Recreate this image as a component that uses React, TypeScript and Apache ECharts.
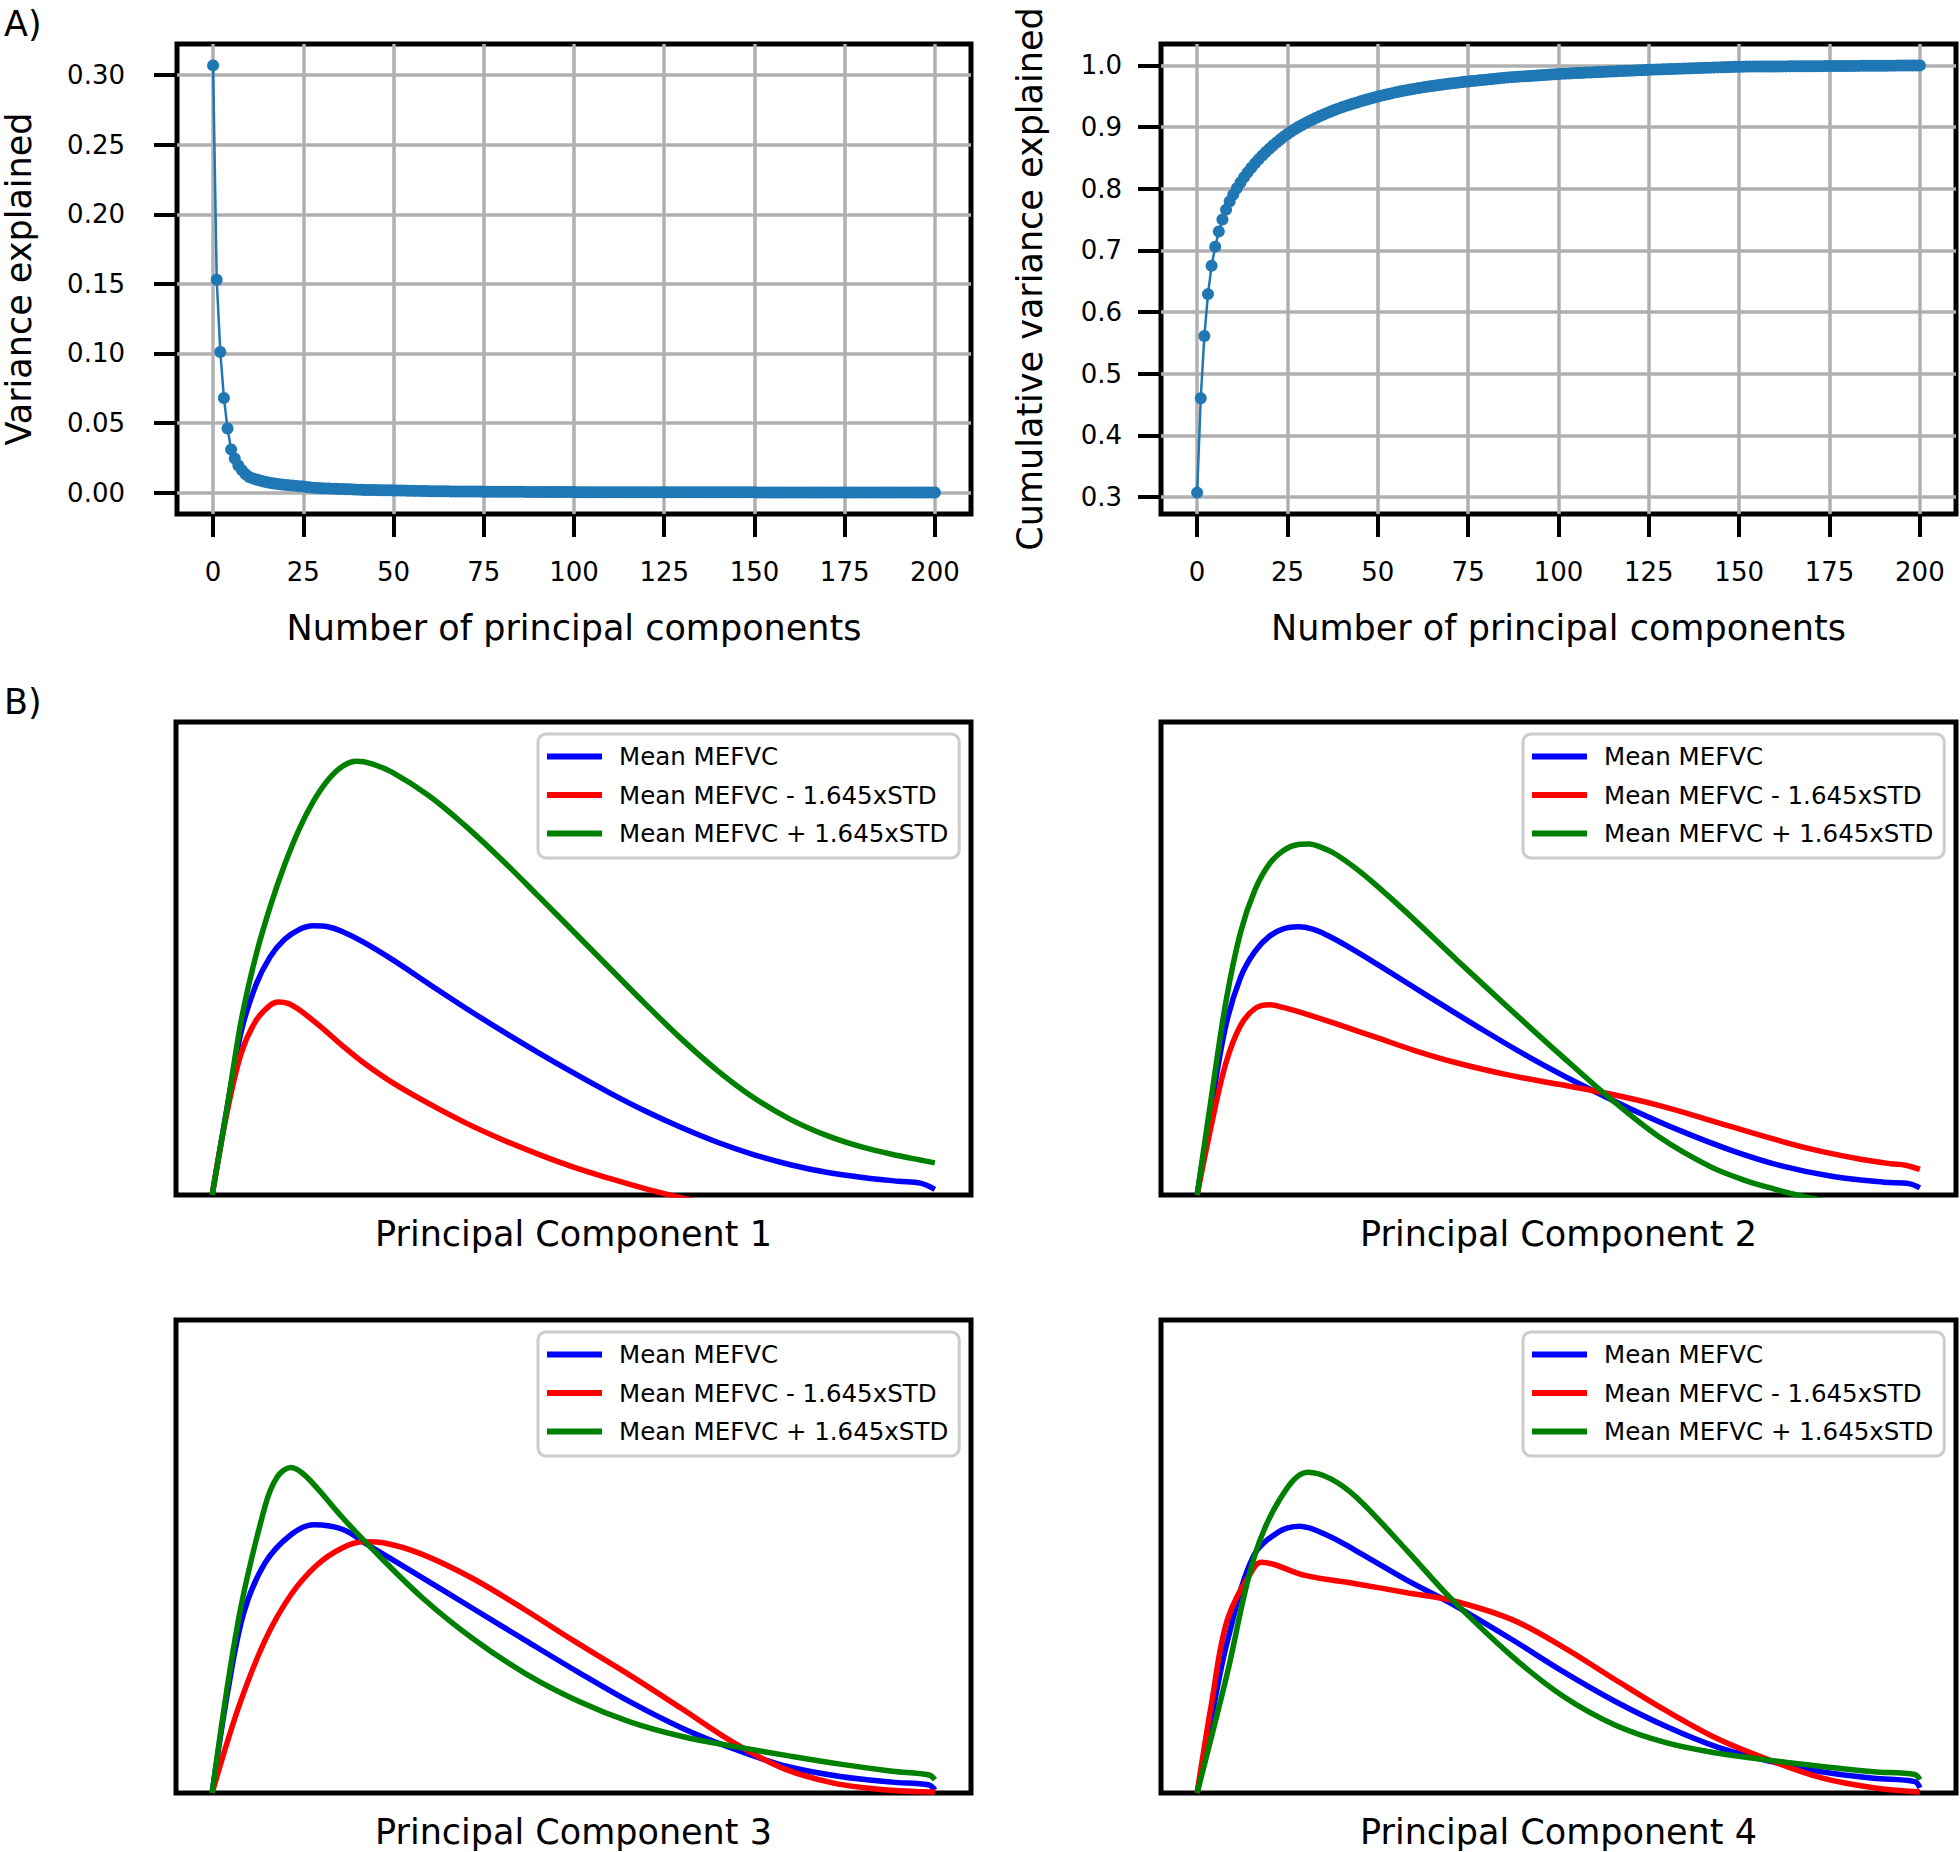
import React, { useEffect, useRef } from "react";
import * as echarts from "echarts";

const FONT = "'DejaVu Sans', 'Liberation Sans', sans-serif";

// ---------- A) PCA scree data ----------
const componentNumbers = Array.from({ length: 201 }, (_, i) => i);
const componentTicks = [0, 25, 50, 75, 100, 125, 150, 175, 200];
const varianceTicks = [0, 0.05, 0.1, 0.15, 0.2, 0.25, 0.3];
const cumulativeTicks = [0.3, 0.4, 0.5, 0.6, 0.7, 0.8, 0.9, 1.0];

const varianceExplained = [
  0.307, 0.153, 0.101, 0.068, 0.046, 0.031, 0.0245, 0.0195, 0.016, 0.0132,
  0.0112, 0.0102, 0.0094, 0.0087, 0.008, 0.0074, 0.0069, 0.0065, 0.0061, 0.0058,
  0.0055, 0.0052, 0.005, 0.0048, 0.0046, 0.0043, 0.004, 0.0037, 0.0035, 0.0033,
  0.0031, 0.003, 0.0029, 0.0028, 0.0027, 0.0026, 0.0025, 0.0024, 0.0023, 0.0022,
  0.0021, 0.002, 0.0019, 0.0019, 0.0018, 0.0018, 0.0017, 0.0017, 0.0016, 0.0016,
  0.0015, 0.0015, 0.0014, 0.0014, 0.0013, 0.0013, 0.0012, 0.0012, 0.0011, 0.0011,
  0.001, 0.001, 0.001, 0.0009, 0.0009, 0.0009, 0.0008, 0.0008, 0.0008, 0.0008,
  0.0007, 0.0007, 0.0007, 0.0007, 0.0007, 0.0006, 0.0006, 0.0006, 0.0006, 0.0006,
  0.0006, 0.0006, 0.0006, 0.0006, 0.0006, 0.0006, 0.0006, 0.0004, 0.0004, 0.0004,
  0.0004, 0.0004, 0.0004, 0.0004, 0.0004, 0.0004, 0.0004, 0.0004, 0.0004, 0.0004,
  0.0004, 0.00027, 0.00027, 0.00027, 0.00027, 0.00027, 0.00027, 0.00027, 0.00027, 0.00027,
  0.00027, 0.00027, 0.00027, 0.00027, 0.00027, 0.00027, 0.00027, 0.00027, 0.00027, 0.00027,
  0.00027, 0.00027, 0.00027, 0.00027, 0.00027, 0.00027, 0.0002, 0.0002, 0.0002, 0.0002,
  0.0002, 0.0002, 0.0002, 0.0002, 0.0002, 0.0002, 0.0002, 0.0002, 0.0002, 0.0002,
  0.0002, 0.0002, 0.0002, 0.0002, 0.0002, 0.0002, 0.0002, 0.0002, 0.0002, 0.0002,
  0.0002, 0.00004, 0.00004, 0.00004, 0.00004, 0.00004, 0.00004, 0.00004, 0.00004, 0.00004,
  0.00004, 0.00004, 0.00004, 0.00004, 0.00004, 0.00004, 0.00004, 0.00004, 0.00004, 0.00004,
  0.00004, 0.00004, 0.00004, 0.00004, 0.00004, 0.00004, 0.00004, 0.00004, 0.00004, 0.00004,
  0.00004, 0.00004, 0.00004, 0.00004, 0.00004, 0.00004, 0.00004, 0.00004, 0.00004, 0.00004,
  0.00004, 0.00004, 0.00004, 0.00004, 0.00004, 0.00004, 0.00004, 0.00004, 0.00004, 0.00004,
  0.00004,
];

const cumulativeExplained = [
  0.307, 0.46, 0.561, 0.629, 0.675, 0.706, 0.7305, 0.75, 0.766, 0.7792,
  0.7904, 0.8006, 0.81, 0.8187, 0.8267, 0.8341, 0.841, 0.8475, 0.8536, 0.8594,
  0.8649, 0.8701, 0.8751, 0.8799, 0.8845, 0.8888, 0.8928, 0.8965, 0.9, 0.9033,
  0.9064, 0.9094, 0.9123, 0.9151, 0.9178, 0.9204, 0.9229, 0.9253, 0.9276, 0.9298,
  0.9319, 0.9339, 0.9358, 0.9377, 0.9395, 0.9413, 0.943, 0.9447, 0.9463, 0.9479,
  0.9494, 0.9509, 0.9523, 0.9537, 0.955, 0.9563, 0.9575, 0.9587, 0.9598, 0.9609,
  0.9619, 0.9629, 0.9639, 0.9648, 0.9657, 0.9666, 0.9674, 0.9682, 0.969, 0.9698,
  0.9705, 0.9712, 0.9719, 0.9726, 0.9733, 0.9739, 0.9745, 0.9751, 0.9757, 0.9763,
  0.9769, 0.9775, 0.9781, 0.9787, 0.9793, 0.9799, 0.9805, 0.9809, 0.9813, 0.9817,
  0.9821, 0.9825, 0.9829, 0.9833, 0.9837, 0.9841, 0.9845, 0.9849, 0.9853, 0.9857,
  0.9861, 0.9864, 0.9866, 0.9869, 0.9872, 0.9875, 0.9877, 0.988, 0.9883, 0.9885,
  0.9888, 0.9891, 0.9893, 0.9896, 0.9899, 0.9902, 0.9904, 0.9907, 0.991, 0.9912,
  0.9915, 0.9918, 0.992, 0.9923, 0.9926, 0.9929, 0.9931, 0.9933, 0.9935, 0.9937,
  0.9939, 0.9941, 0.9943, 0.9945, 0.9947, 0.9949, 0.9951, 0.9953, 0.9955, 0.9957,
  0.9959, 0.9961, 0.9963, 0.9965, 0.9967, 0.9969, 0.9971, 0.9973, 0.9975, 0.9977,
  0.9979, 0.9979, 0.998, 0.998, 0.9981, 0.9981, 0.9981, 0.9982, 0.9982, 0.9983,
  0.9983, 0.9983, 0.9984, 0.9984, 0.9985, 0.9985, 0.9985, 0.9986, 0.9986, 0.9987,
  0.9987, 0.9987, 0.9988, 0.9988, 0.9989, 0.9989, 0.9989, 0.999, 0.999, 0.9991,
  0.9991, 0.9991, 0.9992, 0.9992, 0.9993, 0.9993, 0.9993, 0.9994, 0.9994, 0.9995,
  0.9995, 0.9995, 0.9996, 0.9996, 0.9997, 0.9997, 0.9997, 0.9998, 0.9998, 0.9999,
  1.0,
];

// ---------- B) MEFVC curves (normalised position 0-100, relative amplitude) ----------
const seriesNames = ["Mean MEFVC", "Mean MEFVC - 1.645xSTD", "Mean MEFVC + 1.645xSTD"];
const seriesColors = ["#0000ff", "#ff0000", "#008000"];
const panelTitles = ["Principal Component 1", "Principal Component 2", "Principal Component 3", "Principal Component 4"];

// PC1
const pc1MeanX = [0, 2, 4, 6, 8, 10, 12, 14, 16, 18, 21, 25, 30, 35, 40, 45, 50, 55, 60, 65, 70, 75, 80, 85, 90, 95, 98, 100];
const pc1MeanY = [0, 0.178, 0.344, 0.442, 0.503, 0.54, 0.561, 0.569, 0.567, 0.557, 0.534, 0.497, 0.446, 0.396, 0.348, 0.302, 0.258, 0.216, 0.177, 0.142, 0.111, 0.085, 0.064, 0.048, 0.037, 0.029, 0.025, 0.012];
const pc1MinusX = [0, 2, 4, 6, 8, 9.2, 10.5, 12, 15, 18, 21, 25, 30, 35, 40, 45, 50, 55, 60, 65, 70];
const pc1MinusY = [0, 0.17, 0.299, 0.367, 0.401, 0.408, 0.405, 0.392, 0.356, 0.316, 0.279, 0.237, 0.193, 0.153, 0.118, 0.087, 0.059, 0.035, 0.013, -0.006, -0.022];
const pc1PlusX = [0, 2, 4, 6, 8, 10, 12, 14, 16, 18, 20, 22, 25, 30, 35, 40, 45, 50, 55, 60, 65, 70, 75, 80, 85, 90, 95, 98, 100];
const pc1PlusY = [0, 0.178, 0.367, 0.503, 0.608, 0.697, 0.772, 0.832, 0.877, 0.906, 0.917, 0.912, 0.893, 0.844, 0.781, 0.71, 0.634, 0.557, 0.48, 0.403, 0.329, 0.262, 0.205, 0.16, 0.126, 0.101, 0.083, 0.074, 0.068];

// PC2
const pc2MeanX = [0, 2, 4, 6, 8, 10, 12, 14, 16, 18, 21, 25, 32, 39, 46, 53, 60, 67, 74, 81, 88, 95, 98.5, 100];
const pc2MeanY = [0, 0.19, 0.36, 0.46, 0.515, 0.547, 0.563, 0.567, 0.562, 0.549, 0.524, 0.487, 0.42, 0.354, 0.291, 0.234, 0.182, 0.135, 0.094, 0.061, 0.039, 0.027, 0.024, 0.015];
const pc2MinusX = [0, 2, 4, 6, 8, 10, 12, 15, 20, 25, 30, 36, 43, 50, 57, 64, 71, 78, 85, 92, 96, 98, 100];
const pc2MinusY = [0, 0.15, 0.28, 0.358, 0.394, 0.402, 0.396, 0.383, 0.358, 0.332, 0.306, 0.279, 0.254, 0.234, 0.214, 0.189, 0.158, 0.126, 0.097, 0.075, 0.066, 0.063, 0.054];
const pc2PlusX = [0, 2, 4, 6, 8, 10, 12, 14, 15.5, 17, 19, 22, 25, 29, 36, 43, 50, 57, 64, 71, 76, 80, 83, 86, 90];
const pc2PlusY = [0, 0.21, 0.41, 0.555, 0.645, 0.7, 0.729, 0.741, 0.742, 0.736, 0.722, 0.69, 0.652, 0.597, 0.496, 0.397, 0.3, 0.206, 0.122, 0.06, 0.03, 0.012, 0, -0.01, -0.02];

// PC3
const pc3MeanX = [0, 2.2, 4.4, 7.3, 10.9, 14.1, 18.1, 21.7, 29, 36.2, 43.4, 50.7, 57.9, 65.2, 72.4, 79.6, 86.9, 94.1, 99.2, 100];
const pc3MeanY = [0, 0.218, 0.382, 0.486, 0.546, 0.567, 0.557, 0.523, 0.456, 0.389, 0.322, 0.255, 0.192, 0.136, 0.092, 0.056, 0.035, 0.023, 0.017, 0.006];
const pc3MinusX = [0, 3.65, 7.3, 10.9, 14.5, 18, 21, 24, 29, 36, 43, 50, 58, 65, 72, 79, 86, 93, 100];
const pc3MinusY = [0, 0.181, 0.322, 0.419, 0.482, 0.518, 0.531, 0.528, 0.505, 0.454, 0.39, 0.322, 0.247, 0.178, 0.108, 0.052, 0.021, 0.007, 0.002];
const pc3PlusX = [0, 3.65, 7.3, 9, 10.9, 12.5, 14.5, 18, 21.7, 29, 36.2, 43.4, 50.7, 57.9, 65.2, 72.4, 79.6, 86.9, 94.1, 99.2, 100];
const pc3PlusY = [0, 0.367, 0.605, 0.668, 0.688, 0.676, 0.645, 0.583, 0.523, 0.414, 0.325, 0.252, 0.194, 0.15, 0.119, 0.098, 0.079, 0.061, 0.046, 0.038, 0.028];

// PC4
const pc4MeanX = [0, 2, 4.2, 7.8, 11.4, 14.2, 18, 22, 29, 35, 43.5, 50.7, 57.8, 65, 72, 79.3, 86.4, 93.6, 99.3, 100];
const pc4MeanY = [0, 0.16, 0.322, 0.501, 0.553, 0.564, 0.545, 0.512, 0.45, 0.402, 0.325, 0.256, 0.194, 0.14, 0.097, 0.067, 0.045, 0.031, 0.024, 0.011];
const pc4MinusX = [0, 2, 4.2, 7.8, 8.9, 14.9, 22.1, 29.2, 35, 43.5, 50.7, 57.8, 65, 72.1, 79.3, 86.4, 93.6, 100];
const pc4MinusY = [0, 0.19, 0.367, 0.475, 0.488, 0.46, 0.442, 0.423, 0.408, 0.367, 0.308, 0.24, 0.173, 0.114, 0.069, 0.032, 0.011, 0.002];
const pc4PlusX = [0, 2, 4.2, 7.8, 11.4, 15.3, 18.5, 22.1, 29.2, 35, 43.5, 50.7, 57.8, 65, 72.1, 79.3, 86.4, 93.6, 99.3, 100];
const pc4PlusY = [0, 0.12, 0.255, 0.494, 0.62, 0.678, 0.664, 0.624, 0.51, 0.413, 0.29, 0.204, 0.144, 0.106, 0.084, 0.069, 0.056, 0.045, 0.039, 0.028];

const panelCurves = [
  [[pc1MeanX, pc1MeanY], [pc1MinusX, pc1MinusY], [pc1PlusX, pc1PlusY]],
  [[pc2MeanX, pc2MeanY], [pc2MinusX, pc2MinusY], [pc2PlusX, pc2PlusY]],
  [[pc3MeanX, pc3MeanY], [pc3MinusX, pc3MinusY], [pc3PlusX, pc3PlusY]],
  [[pc4MeanX, pc4MeanY], [pc4MinusX, pc4MinusY], [pc4PlusX, pc4PlusY]],
];

const pairs = (xs: number[], ys: number[]) => xs.map((x, i) => [x, ys[i]]);

function buildOption() {
  const gridBase = { show: true, borderColor: "#000", borderWidth: 5, backgroundColor: "transparent", containLabel: false };
  const grids = [
    { left: 176, top: 44, width: 795, height: 470 },
    { left: 1161, top: 44, width: 795, height: 470 },
    { left: 176, top: 722, width: 795, height: 473 },
    { left: 1161, top: 722, width: 795, height: 473 },
    { left: 176, top: 1320, width: 795, height: 473 },
    { left: 1161, top: 1320, width: 795, height: 473 },
  ].map((g) => ({ ...gridBase, ...g }));

  const tickStyle = { show: true, length: 23, lineStyle: { color: "#000", width: 4 } };
  const gridLine = { show: true, lineStyle: { color: "#b0b0b0", width: 3.5 } };
  const labelBase = { fontSize: 26, color: "#000", fontFamily: FONT };
  const nameStyle = { fontSize: 35, color: "#000", fontFamily: FONT };

  const xAxes: any[] = [0, 1].map((gi) => ({
    gridIndex: gi,
    type: "value",
    min: -10,
    max: 210,
    axisLine: { show: false, onZero: false },
    axisTick: { ...tickStyle, customValues: componentTicks },
    axisLabel: { ...labelBase, margin: 45, customValues: componentTicks },
    splitLine: gridLine,
    name: "Number of principal components",
    nameLocation: "middle",
    nameGap: 96,
    nameTextStyle: nameStyle,
  }));
  const yAxes: any[] = [
    {
      gridIndex: 0,
      type: "value",
      min: -0.0154,
      max: 0.3224,
      axisLine: { show: false, onZero: false },
      axisTick: { ...tickStyle, customValues: varianceTicks },
      axisLabel: { ...labelBase, margin: 52, customValues: varianceTicks, formatter: (v: number) => v.toFixed(2) },
      splitLine: gridLine,
      name: "Variance explained",
      nameLocation: "middle",
      nameRotate: 90,
      nameGap: 141,
      nameTextStyle: nameStyle,
    },
    {
      gridIndex: 1,
      type: "value",
      min: 0.2723,
      max: 1.0347,
      axisLine: { show: false, onZero: false },
      axisTick: { ...tickStyle, customValues: cumulativeTicks },
      axisLabel: { ...labelBase, margin: 39, customValues: cumulativeTicks, formatter: (v: number) => v.toFixed(1) },
      splitLine: gridLine,
      name: "Cumulative variance explained",
      nameLocation: "middle",
      nameRotate: 90,
      nameGap: 114,
      nameTextStyle: nameStyle,
    },
  ];

  for (let p = 0; p < 4; p++) {
    xAxes.push({
      gridIndex: p + 2,
      type: "value",
      min: -5,
      max: 105,
      axisLine: { show: false, onZero: false },
      axisTick: { show: false },
      axisLabel: { show: false },
      splitLine: { show: false },
      name: panelTitles[p],
      nameLocation: "middle",
      nameGap: 21,
      nameTextStyle: nameStyle,
    });
    yAxes.push({
      gridIndex: p + 2,
      type: "value",
      min: 0,
      max: 1,
      axisLine: { show: false, onZero: false },
      axisTick: { show: false },
      axisLabel: { show: false },
      splitLine: { show: false },
    });
  }

  const series: any[] = [
    {
      name: "Variance explained",
      type: "line",
      xAxisIndex: 0,
      yAxisIndex: 0,
      data: pairs(componentNumbers, varianceExplained),
      symbol: "circle",
      symbolSize: 12,
      showAllSymbol: true,
      lineStyle: { color: "#1f77b4", width: 2.5 },
      itemStyle: { color: "#1f77b4" },
      z: 3,
    },
    {
      name: "Cumulative variance explained",
      type: "line",
      xAxisIndex: 1,
      yAxisIndex: 1,
      data: pairs(componentNumbers, cumulativeExplained),
      symbol: "circle",
      symbolSize: 12,
      showAllSymbol: true,
      lineStyle: { color: "#1f77b4", width: 2.5 },
      itemStyle: { color: "#1f77b4" },
      z: 3,
    },
  ];

  panelCurves.forEach((curves, p) => {
    curves.forEach(([xs, ys], k) => {
      series.push({
        name: seriesNames[k],
        type: "line",
        xAxisIndex: p + 2,
        yAxisIndex: p + 2,
        data: pairs(xs, ys),
        symbol: "none",
        smooth: 0.35,
        clip: true,
        lineStyle: { color: seriesColors[k], width: 5.5 },
        itemStyle: { color: seriesColors[k] },
        z: 3 + k,
      });
    });
  });

  const legendPos = [
    { left: 538, top: 734 },
    { left: 1523, top: 734 },
    { left: 538, top: 1332 },
    { left: 1523, top: 1332 },
  ];
  const legends = legendPos.map((pos) => ({
    ...pos,
    orient: "vertical",
    data: seriesNames,
    icon: "rect",
    itemWidth: 55,
    itemHeight: 6,
    itemGap: 13.5,
    selectedMode: false,
    backgroundColor: "rgba(255,255,255,0.8)",
    borderColor: "#cccccc",
    borderWidth: 3,
    borderRadius: 8,
    padding: [10, 11, 12, 9],
    textStyle: { fontSize: 24.5, fontFamily: FONT, color: "#000", padding: [0, 0, 0, 12] },
    z: 10,
  }));

  return {
    animation: false,
    backgroundColor: "#ffffff",
    textStyle: { fontFamily: FONT },
    grid: grids,
    xAxis: xAxes,
    yAxis: yAxes,
    legend: legends,
    series,
    graphic: [
      { type: "text", left: 4, top: 6, style: { text: "A)", fontSize: 35, fontFamily: FONT, fill: "#000" } },
      { type: "text", left: 4, top: 684, style: { text: "B)", fontSize: 35, fontFamily: FONT, fill: "#000" } },
    ],
  };
}

export default function App() {
  const ref = useRef<HTMLDivElement>(null);
  useEffect(() => {
    document.body.style.margin = "0";
    if (!ref.current) return;
    const chart = echarts.init(ref.current, undefined, { renderer: "svg" });
    chart.setOption(buildOption() as any);
    return () => chart.dispose();
  }, []);
  return <div ref={ref} style={{ width: 1960, height: 1852, background: "#fff" }} />;
}
